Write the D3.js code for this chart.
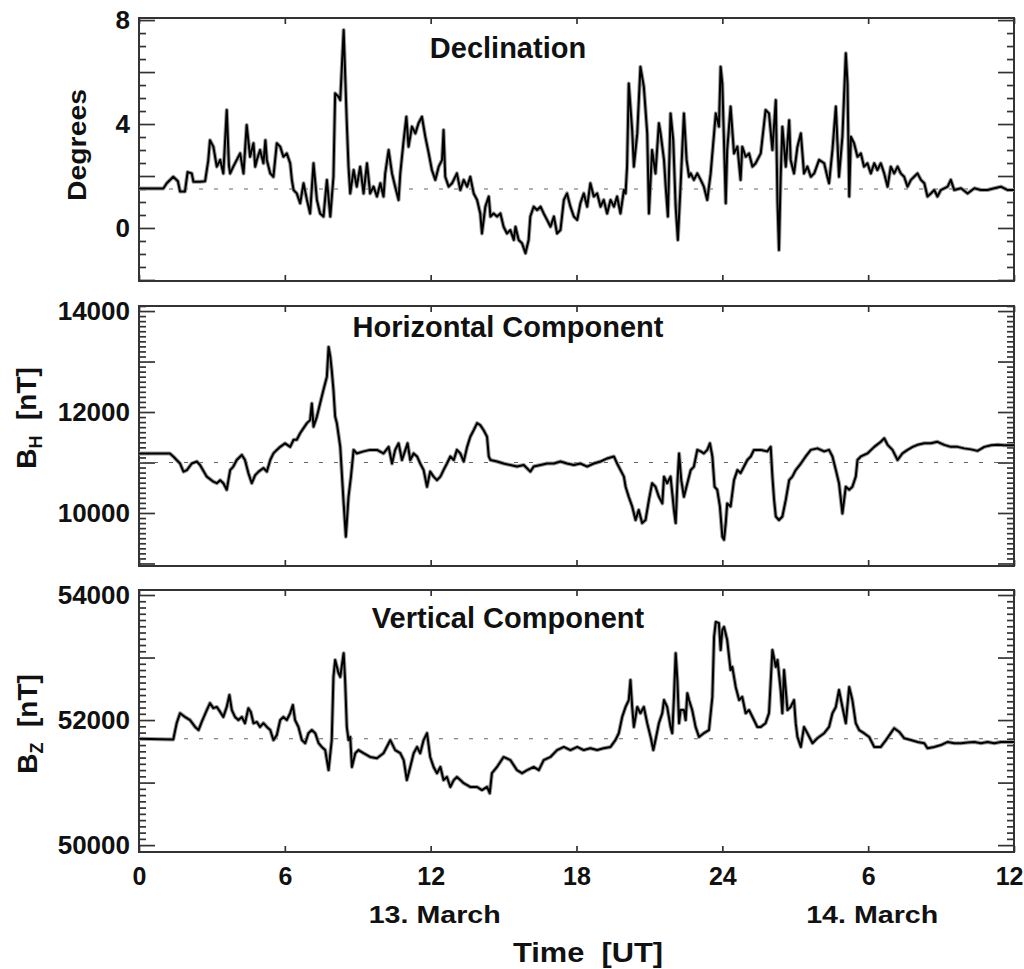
<!DOCTYPE html>
<html><head><meta charset="utf-8">
<script src="https://cdn.jsdelivr.net/npm/d3@7"></script>
<style>
body{margin:0;background:#fff}
text{font-family:"Liberation Sans",Arial,Helvetica,sans-serif;font-weight:bold;fill:#111}
</style>
</head><body>
<svg id="chart" width="1024" height="969"></svg>
<script>
// ---------- DATA (hours since 13 March 00 UT, value) ----------
const hourTicks = [0, 6, 12, 18, 24, 30, 36];
const hourTickLabels = ["0", "6", "12", "18", "24", "6", "12"];
const dayLabels = ["13. March", "14. March"];
const dayLabelHours = [12, 30];
const xLabel = "Time  [UT]";

const titles = ["Declination", "Horizontal Component", "Vertical Component"];

const decTicksLabeled = [0, 4, 8];
const hTicksLabeled = [10000, 12000, 14000];
const zTicksLabeled = [50000, 52000, 54000];
const quietLevels = [1.5, 11000, 51700];

const declination = [[0,1.52],[1.0,1.52],[1.14,1.72],[1.41,1.97],[1.6,1.8],[1.69,1.4],[1.89,1.4],[2.0,2.15],[2.17,2.1],[2.24,1.78],[2.51,1.78],[2.72,1.8],[2.85,2.6],[2.92,3.38],[3.06,3.13],[3.2,2.36],[3.34,2.62],[3.47,2.1],[3.61,4.54],[3.7,2.4],[3.75,2.1],[3.88,2.36],[4.16,2.87],[4.3,2.1],[4.43,3.96],[4.57,2.74],[4.71,3.26],[4.78,2.36],[4.85,2.62],[4.98,3.0],[5.12,2.49],[5.2,3.38],[5.26,2.62],[5.4,2.1],[5.53,1.97],[5.67,3.26],[5.81,3.13],[5.94,2.74],[6.08,2.87],[6.22,2.49],[6.29,1.85],[6.36,1.46],[6.49,1.33],[6.63,0.95],[6.77,1.72],[6.91,1.08],[7.04,0.56],[7.18,2.49],[7.32,1.08],[7.45,0.56],[7.59,0.44],[7.73,1.85],[7.87,0.44],[8.0,1.97],[8.07,5.18],[8.21,5.05],[8.28,4.92],[8.42,7.62],[8.55,4.03],[8.62,2.36],[8.69,1.33],[8.83,2.23],[8.96,1.59],[9.1,2.36],[9.24,1.33],[9.38,2.49],[9.51,1.33],[9.65,1.59],[9.79,1.21],[9.93,1.72],[10.06,1.21],[10.13,2.1],[10.27,3.0],[10.41,2.1],[10.54,1.59],[10.68,1.08],[10.75,2.1],[10.89,3.38],[11.0,4.28],[11.09,3.13],[11.23,3.9],[11.37,3.64],[11.5,4.03],[11.64,4.28],[11.78,3.51],[11.92,2.87],[12.05,2.23],[12.19,1.85],[12.33,2.36],[12.47,2.62],[12.53,3.77],[12.6,1.97],[12.74,1.59],[12.88,1.72],[13.08,2.1],[13.22,1.46],[13.36,1.85],[13.5,1.59],[13.63,1.97],[13.77,1.33],[13.91,1.08],[14.04,0.56],[14.11,-0.21],[14.25,0.82],[14.39,1.21],[14.46,0.44],[14.59,0.56],[14.73,0.44],[14.87,0.56],[15.0,0.05],[15.14,-0.21],[15.28,-0.08],[15.42,-0.46],[15.49,0.05],[15.62,-0.46],[15.76,-0.59],[15.9,-0.97],[16.03,-0.46],[16.1,0.44],[16.24,0.82],[16.38,0.69],[16.52,0.82],[16.65,0.56],[16.79,0.31],[16.93,0.05],[17.07,0.44],[17.2,-0.21],[17.34,-0.08],[17.48,1.08],[17.61,1.33],[17.75,0.82],[17.89,0.44],[18.03,0.31],[18.16,0.95],[18.3,1.33],[18.44,0.82],[18.57,1.72],[18.71,1.21],[18.85,1.33],[18.99,0.82],[19.12,1.08],[19.26,0.56],[19.4,1.08],[19.54,0.82],[19.67,1.21],[19.81,0.56],[19.95,1.46],[20.02,1.33],[20.08,2.36],[20.15,5.56],[20.29,3.77],[20.36,2.36],[20.5,3.64],[20.63,6.2],[20.77,5.44],[20.91,3.64],[20.98,0.56],[21.11,3.0],[21.25,2.1],[21.39,4.03],[21.46,3.64],[21.6,2.62],[21.67,1.59],[21.76,0.44],[21.87,4.41],[21.98,3.38],[22.08,0.82],[22.17,-0.46],[22.28,1.59],[22.42,4.41],[22.53,2.62],[22.63,1.97],[22.7,2.1],[22.83,1.85],[22.97,2.1],[23.11,1.85],[23.24,1.59],[23.38,1.08],[23.52,2.1],[23.66,3.64],[23.73,4.41],[23.86,3.9],[23.93,6.2],[24.0,5.56],[24.07,3.26],[24.14,0.95],[24.2,3.0],[24.34,4.67],[24.48,2.87],[24.62,3.13],[24.75,1.85],[24.82,3.13],[24.96,2.74],[25.1,2.87],[25.24,2.36],[25.37,2.49],[25.58,2.87],[25.78,4.54],[25.92,4.41],[26.06,3.0],[26.2,4.92],[26.27,0.95],[26.33,-0.85],[26.4,1.97],[26.47,3.9],[26.61,2.36],[26.75,4.15],[26.81,2.62],[26.95,2.1],[27.09,3.13],[27.23,3.64],[27.36,2.1],[27.5,2.36],[27.64,1.97],[27.78,2.1],[27.98,2.62],[28.19,2.49],[28.32,1.97],[28.39,1.72],[28.53,3.0],[28.67,4.67],[28.8,1.97],[28.94,3.51],[29.08,6.72],[29.15,5.56],[29.22,1.21],[29.29,3.51],[29.42,3.26],[29.56,2.74],[29.7,2.87],[29.83,2.36],[29.97,2.49],[30.11,2.1],[30.25,2.49],[30.38,2.23],[30.52,2.49],[30.66,2.1],[30.8,1.59],[30.93,2.36],[31.07,2.1],[31.21,2.36],[31.34,2.1],[31.48,1.97],[31.62,1.59],[31.76,1.85],[31.89,1.97],[32.03,2.1],[32.17,1.85],[32.31,1.72],[32.44,1.21],[32.58,1.33],[32.72,1.46],[32.85,1.21],[32.99,1.46],[33.27,1.59],[33.4,1.85],[33.54,1.46],[33.82,1.53],[34.09,1.33],[34.37,1.53],[34.64,1.46],[34.91,1.46],[35.19,1.53],[35.46,1.59],[35.74,1.46],[36.0,1.46]];

const horizontal = [[0,11180],[1.27,11180],[1.41,11120],[1.69,10980],[1.83,10820],[1.97,10850],[2.17,10980],[2.38,11020],[2.51,10950],[2.79,10720],[3.06,10620],[3.2,10590],[3.34,10650],[3.47,10590],[3.61,10460],[3.75,10850],[3.88,10920],[4.02,11050],[4.23,11150],[4.36,11050],[4.5,10790],[4.64,10590],[4.78,10750],[4.92,10820],[5.12,10890],[5.26,10820],[5.4,11050],[5.53,11180],[5.67,11250],[5.81,11310],[6.01,11380],[6.22,11310],[6.36,11450],[6.49,11450],[6.63,11580],[6.77,11680],[6.91,11780],[7.04,11840],[7.11,12170],[7.18,11710],[7.32,11910],[7.45,12170],[7.59,12440],[7.73,12700],[7.8,13290],[7.87,13100],[7.93,12830],[8.0,12440],[8.07,11910],[8.14,11780],[8.28,11310],[8.42,10190],[8.51,9530],[8.62,10320],[8.72,10720],[8.83,11250],[8.96,11180],[9.24,11220],[9.51,11250],[9.79,11250],[10.06,11180],[10.27,11310],[10.41,10980],[10.54,11250],[10.68,11380],[10.82,11050],[10.96,11250],[11.05,11380],[11.16,11050],[11.3,11180],[11.44,11120],[11.57,10980],[11.71,10850],[11.85,10520],[11.98,10820],[12.12,10720],[12.26,10650],[12.4,10720],[12.53,10850],[12.67,10980],[12.81,11120],[12.95,11050],[13.08,11250],[13.22,11180],[13.36,11020],[13.5,11310],[13.63,11510],[13.77,11640],[13.91,11780],[14.04,11740],[14.18,11640],[14.32,11510],[14.39,11120],[14.46,11050],[14.73,11020],[15.0,10980],[15.28,10950],[15.55,10920],[15.83,10950],[16.1,10820],[16.24,10920],[16.52,10950],[16.79,10980],[17.07,10980],[17.34,11020],[17.61,10980],[17.89,10950],[18.16,10980],[18.44,10920],[18.71,10980],[18.99,11020],[19.26,11080],[19.54,11120],[19.67,10980],[19.81,10850],[19.95,10720],[20.02,10520],[20.15,10320],[20.29,10130],[20.43,9860],[20.56,10060],[20.7,9800],[20.84,9860],[20.98,10260],[21.11,10590],[21.25,10520],[21.39,10320],[21.53,10190],[21.6,10720],[21.73,10590],[21.87,10720],[22.01,10060],[22.08,9800],[22.15,10590],[22.22,11180],[22.31,10650],[22.42,10320],[22.56,10590],[22.7,10850],[22.83,10920],[22.97,11250],[23.11,11220],[23.24,11180],[23.38,11250],[23.49,11380],[23.59,11120],[23.68,10520],[23.79,10460],[23.9,10130],[24.0,9530],[24.07,9470],[24.14,9800],[24.2,10190],[24.34,10130],[24.48,10650],[24.62,10850],[24.75,10790],[24.89,10920],[25.03,11050],[25.17,11120],[25.3,11250],[25.58,11250],[25.85,11220],[25.99,11310],[26.06,10720],[26.13,10260],[26.2,9930],[26.33,9860],[26.47,9930],[26.61,10260],[26.75,10650],[26.88,10720],[27.02,10850],[27.23,10980],[27.43,11120],[27.64,11250],[27.91,11280],[28.19,11220],[28.39,11250],[28.53,11120],[28.67,10850],[28.8,10590],[28.94,9990],[29.08,10520],[29.22,10460],[29.35,10520],[29.49,10720],[29.56,11050],[29.7,11120],[29.97,11180],[30.25,11310],[30.52,11410],[30.66,11480],[30.8,11350],[31.0,11250],[31.21,11050],[31.41,11180],[31.62,11250],[31.83,11310],[32.03,11350],[32.31,11380],[32.58,11380],[32.85,11410],[33.13,11350],[33.4,11310],[33.68,11310],[33.95,11280],[34.23,11260],[34.5,11230],[34.78,11310],[35.05,11340],[35.33,11350],[35.6,11340],[35.94,11340],[36.0,11340]];

const vertical = [[0,51700],[1.41,51690],[1.55,51950],[1.69,52110],[1.89,52050],[2.1,52000],[2.31,51890],[2.45,51840],[2.58,51970],[2.79,52160],[2.92,52270],[3.06,52190],[3.2,52210],[3.34,52130],[3.47,52050],[3.61,52210],[3.72,52400],[3.82,52160],[3.95,52050],[4.09,52000],[4.23,52050],[4.36,51950],[4.5,52190],[4.6,52130],[4.71,51950],[4.85,51970],[4.98,51890],[5.12,51950],[5.26,51890],[5.4,51840],[5.53,51680],[5.67,51760],[5.81,52000],[5.94,52050],[6.08,52000],[6.22,52110],[6.33,52240],[6.42,52000],[6.56,51890],[6.7,51680],[6.84,51630],[6.97,51790],[7.11,51840],[7.25,51790],[7.39,51630],[7.52,51570],[7.66,51520],[7.8,51200],[7.93,51680],[8.0,52690],[8.07,52960],[8.21,52750],[8.28,52690],[8.42,53070],[8.48,52640],[8.55,51890],[8.62,51680],[8.69,51730],[8.76,51250],[8.9,51470],[9.03,51520],[9.24,51470],[9.51,51410],[9.79,51390],[10.06,51470],[10.34,51680],[10.54,51520],[10.75,51470],[10.89,51360],[11.02,51040],[11.16,51250],[11.3,51470],[11.44,51570],[11.57,51470],[11.71,51680],[11.85,51790],[11.98,51410],[12.12,51250],[12.26,51150],[12.4,51250],[12.53,51040],[12.67,51090],[12.81,50930],[12.95,51040],[13.08,51090],[13.22,51040],[13.36,50990],[13.63,50930],[13.91,50930],[14.11,50880],[14.32,50930],[14.43,50830],[14.52,51150],[14.73,51250],[15.0,51410],[15.28,51360],[15.55,51200],[15.76,51150],[15.97,51200],[16.24,51250],[16.45,51200],[16.65,51360],[16.93,51410],[17.2,51520],[17.48,51570],[17.75,51520],[18.03,51570],[18.3,51520],[18.57,51550],[18.85,51520],[19.12,51550],[19.4,51570],[19.6,51680],[19.74,51790],[19.88,52050],[20.02,52210],[20.15,52320],[20.22,52640],[20.29,52210],[20.36,51890],[20.5,52210],[20.63,52110],[20.77,52210],[20.91,51950],[21.05,51730],[21.16,51520],[21.25,51680],[21.39,51950],[21.53,52110],[21.6,52320],[21.73,52210],[21.87,51890],[21.94,51790],[22.01,52370],[22.08,53070],[22.15,52640],[22.22,51950],[22.28,52160],[22.42,52160],[22.49,52000],[22.56,52430],[22.63,52320],[22.76,52160],[22.9,51890],[23.04,51730],[23.24,51790],[23.45,51840],[23.59,52370],[23.66,53330],[23.73,53570],[23.86,53550],[23.93,53120],[24.0,53440],[24.07,53490],[24.2,53280],[24.34,52800],[24.41,52850],[24.55,52530],[24.69,52320],[24.82,52370],[24.96,52110],[25.1,52160],[25.24,52050],[25.44,51890],[25.58,51890],[25.78,51950],[25.92,52110],[26.06,53120],[26.2,52850],[26.27,52960],[26.4,52480],[26.47,52110],[26.54,52800],[26.68,52160],[26.81,52210],[26.95,52320],[27.02,51950],[27.09,51730],[27.23,51570],[27.36,51890],[27.5,51790],[27.71,51630],[27.91,51710],[28.19,51790],[28.39,51890],[28.53,52110],[28.67,52210],[28.8,52480],[28.94,52210],[29.08,51950],[29.22,52530],[29.35,52320],[29.49,51950],[29.63,51840],[29.83,51790],[30.04,51730],[30.25,51570],[30.52,51570],[30.73,51680],[30.93,51790],[31.07,51870],[31.28,51810],[31.48,51710],[31.76,51680],[32.03,51650],[32.31,51630],[32.44,51550],[32.72,51570],[32.99,51600],[33.27,51650],[33.54,51630],[33.82,51630],[34.09,51640],[34.37,51650],[34.64,51630],[34.91,51650],[35.19,51630],[35.46,51650],[35.87,51650],[36.0,51650]];

// ---------- LAYOUT ----------
const svg = d3.select("#chart");
const left = 139, right = 1014;
const x = d3.scaleLinear().domain([0, 36]).range([left, right]);

const panels = [
  {data: declination, title: titles[0], top: 18, bottom: 281, domain: [-2.04, 8.08],
   labeled: decTicksLabeled, majorStep: 2, minorStep: 0.5, base: quietLevels[0], titleY: 58},
  {data: horizontal, title: titles[1], top: 306, bottom: 566, domain: [8950, 14100],
   labeled: hTicksLabeled, majorStep: 1000, minorStep: 100, base: quietLevels[1], titleY: 337},
  {data: vertical, title: titles[2], top: 590, bottom: 852, domain: [49890, 54080],
   labeled: zTicksLabeled, majorStep: 1000, minorStep: 100, base: quietLevels[2], titleY: 628}
];

function stepTicks(domain, step) {
  const out = [];
  const s = Math.ceil(domain[0] / step - 1e-9), e = Math.floor(domain[1] / step + 1e-9);
  for (let i = s; i <= e; i++) out.push(+(i * step).toFixed(6));
  return out;
}

panels.forEach((p, idx) => {
  const y = d3.scaleLinear().domain(p.domain).range([p.bottom, p.top]);
  const g = svg.append("g");
  const clipId = "clip" + idx;
  svg.append("clipPath").attr("id", clipId).append("rect")
    .attr("x", left).attr("y", p.top).attr("width", right - left).attr("height", p.bottom - p.top);

  const majors = stepTicks(p.domain, p.majorStep);
  const minors = stepTicks(p.domain, p.minorStep).filter(v => !majors.some(m => Math.abs(m - v) < 1e-6));

  const fmt = v => p.labeled.some(l => Math.abs(l - v) < 1e-6) ? d3.format("d")(v) : "";

  const axStyle = sel => {
    sel.select(".domain").remove();
    sel.selectAll("line").attr("stroke", "#333").attr("stroke-width", 1.7);
  };
  // left minor / major (inward ticks)
  g.append("g").attr("transform", `translate(${left},0)`)
    .call(d3.axisLeft(y).tickValues(minors).tickSizeInner(-7).tickSizeOuter(0).tickFormat(""))
    .call(axStyle);
  g.append("g").attr("transform", `translate(${left},0)`)
    .call(d3.axisLeft(y).tickValues(majors).tickSizeInner(-16).tickSizeOuter(0).tickPadding(9).tickFormat(fmt))
    .call(axStyle)
    .call(s => s.selectAll("text").attr("font-size", 26).attr("fill", "#111"));
  // right mirrored ticks
  g.append("g").attr("transform", `translate(${right},0)`)
    .call(d3.axisRight(y).tickValues(minors).tickSizeInner(-7).tickSizeOuter(0).tickFormat(""))
    .call(axStyle);
  g.append("g").attr("transform", `translate(${right},0)`)
    .call(d3.axisRight(y).tickValues(majors).tickSizeInner(-16).tickSizeOuter(0).tickFormat(""))
    .call(axStyle);
  // top / bottom hour ticks
  g.append("g").attr("transform", `translate(0,${p.top})`)
    .call(d3.axisTop(x).tickValues(hourTicks).tickSizeInner(-6).tickSizeOuter(0).tickFormat(""))
    .call(axStyle);
  const bottomAxis = g.append("g").attr("transform", `translate(0,${p.bottom})`)
    .call(d3.axisBottom(x).tickValues(hourTicks).tickSizeInner(-6).tickSizeOuter(0).tickPadding(15)
      .tickFormat(idx === 2 ? (d, i) => hourTickLabels[i] : ""))
    .call(axStyle);
  if (idx === 2) {
    bottomAxis.selectAll("text").attr("font-size", 25).attr("fill", "#111");
    // keep the last label inside the picture (it sits at the right edge)
    bottomAxis.selectAll("text").filter(d => d === 36)
      .attr("text-anchor", "end").attr("x", 1023 - right);
  }

  // frame
  g.append("rect").attr("x", left).attr("y", p.top)
    .attr("width", right - left).attr("height", p.bottom - p.top)
    .attr("fill", "none").attr("stroke", "#333").attr("stroke-width", 2);

  // quiet-level dotted line
  const ln = d3.line().x(d => x(d[0])).y(d => y(d[1]));
  g.append("path").datum([[0, p.base], [36, p.base]])
    .attr("d", ln).attr("fill", "none").attr("stroke", "#666")
    .attr("stroke-width", 1.1).attr("stroke-dasharray", "4,11");

  // data trace (gray halo + black core)
  const tr = g.append("g").attr("clip-path", `url(#${clipId})`);
  tr.append("path").datum(p.data).attr("d", ln).attr("fill", "none")
    .attr("stroke", "#9a9a9a").attr("stroke-width", 4).attr("stroke-linejoin", "round");
  tr.append("path").datum(p.data).attr("d", ln).attr("fill", "none")
    .attr("stroke", "#000").attr("stroke-width", 2).attr("stroke-linejoin", "round");

  // title
  g.append("text").attr("x", 508).attr("y", p.titleY).attr("text-anchor", "middle")
    .attr("font-size", 29).text(p.title);
});

// y-axis titles
svg.append("text").attr("transform", "translate(86,145) rotate(-90)")
  .attr("text-anchor", "middle").attr("font-size", 26)
  .attr("textLength", 112).attr("lengthAdjust", "spacingAndGlyphs").text("Degrees");

function fieldLabel(cx, cy, sub) {
  const t = svg.append("text").attr("transform", `translate(${cx},${cy}) rotate(-90)`)
    .attr("text-anchor", "middle").attr("font-size", 28).style("white-space", "pre");
  t.append("tspan").text("B");
  t.append("tspan").attr("font-size", 18).attr("dy", 6).text(sub);
  t.append("tspan").attr("dy", -6).text("  [nT]");
}
fieldLabel(36, 418, "H");
fieldLabel(37, 724, "Z");

// date labels and x title
dayLabels.forEach((lab, i) => {
  svg.append("text").attr("x", x(dayLabelHours[i]) + 4).attr("y", 923)
    .attr("text-anchor", "middle").attr("font-size", 24)
    .attr("textLength", 132).attr("lengthAdjust", "spacingAndGlyphs").text(lab);
});
svg.append("text").attr("x", 588).attr("y", 962).attr("text-anchor", "middle")
  .attr("font-size", 27).style("white-space", "pre")
  .attr("textLength", 150).attr("lengthAdjust", "spacingAndGlyphs").text(xLabel);
</script>
</body></html>
